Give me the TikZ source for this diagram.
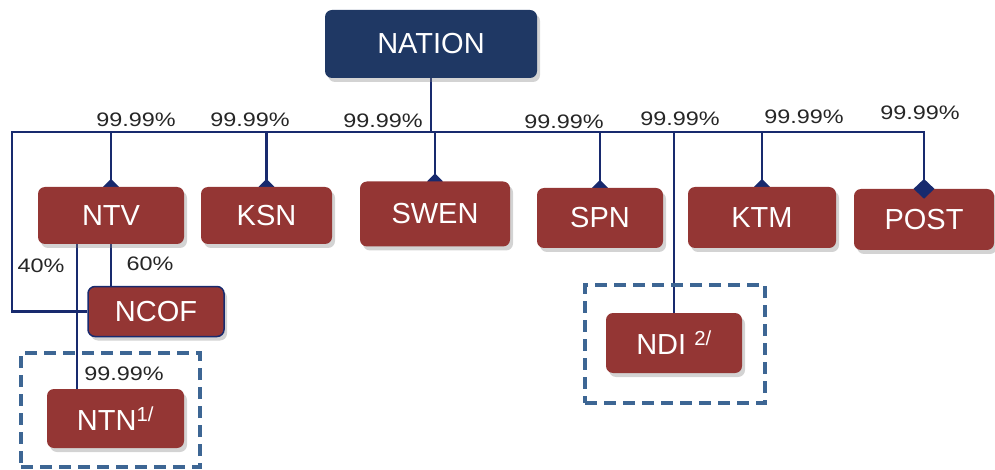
\documentclass[tikz,border=0pt]{standalone}
\usepackage{fontspec}
\setmainfont{Liberation Sans}
\newfontfamily\labfont[FakeStretch=1.2]{Liberation Sans}
\usetikzlibrary{shapes.geometric,shadows}
\pgfdeclarelayer{bg}
\pgfsetlayers{bg,main}
\definecolor{boxred}{RGB}{148,54,52}
\definecolor{navy}{RGB}{31,56,100}
\definecolor{linenavy}{RGB}{24,42,110}
\definecolor{dashblue}{RGB}{61,102,148}
\tikzset{
  unit/.style={rounded corners=7pt, fill=boxred, text=white, font=\fontsize{29}{32}\selectfont,
    drop shadow={opacity=0.35, shadow xshift=3pt, shadow yshift=-4pt}, inner sep=0pt},
  top/.style={unit, fill=navy},
  conn/.style={draw=linenavy, line width=2.4pt},
  lab/.style={font=\labfont\fontsize{19.5}{21}\selectfont, text=black!85, inner sep=0pt},
  dmd/.style={diamond, fill=linenavy, inner sep=0pt, minimum width=16pt, minimum height=16pt},
  bigdmd/.style={diamond, fill=linenavy, inner sep=0pt, minimum width=21pt, minimum height=20pt},
  grp/.style={draw=dashblue, line width=3.2pt, dash pattern=on 12pt off 7pt}
}
\begin{document}
\begin{tikzpicture}[x=1pt,y=-1pt]
\useasboundingbox (0,0) rectangle (995,470);
% dashed groups
\node[grp, minimum width=179pt, minimum height=114pt, inner sep=0pt] (g1) at (110.5,410) {};
\node[grp, minimum width=180pt, minimum height=118pt, inner sep=0pt] (g2) at (675,344) {};
% boxes
\node[top, minimum width=212pt, minimum height=68pt] (nation) at (431,44) {NATION};
\node[unit, minimum width=146pt, minimum height=57pt] (ntv) at (111,215.5) {NTV};
\node[unit, minimum width=131pt, minimum height=57pt] (ksn) at (266.5,215.5) {KSN};
\node[unit, minimum width=150pt, minimum height=65pt] (swen) at (435,214) {SWEN};
\node[unit, minimum width=126pt, minimum height=60pt] (spn) at (600,218) {SPN};
\node[unit, minimum width=148pt, minimum height=61pt] (ktm) at (762,217.5) {KTM};
\node[unit, minimum width=140pt, minimum height=61pt] (post) at (924,219.5) {POST};
\node[unit, draw=linenavy, line width=1.5pt, minimum width=136pt, minimum height=50pt] (ncof) at (156,311.5) {NCOF};
\node[unit, minimum width=136pt, minimum height=60pt] (ndi) at (674,343) {NDI \textsuperscript{2/}};
\node[unit, minimum width=137pt, minimum height=59pt] (ntn) at (115.5,418.5) {NTN\textsuperscript{1/}};
% bus coordinates
\coordinate (bL) at (12,132);
\coordinate (bR) at (924,132);
\coordinate (ntnx) at (77,244);
% connectors behind boxes
\begin{pgfonlayer}{bg}
\draw[conn] (nation.south) -- (nation.south |- bL);
\draw[conn] (ncof.west) -| (bL) -- (bR) -- (post.north);
\draw[conn] (ntv.north |- bL) -- (ntv.north);
\draw[conn] (ksn.north |- bL) -- (ksn.north);
\draw[conn] (swen.north |- bL) -- (swen.north);
\draw[conn] (spn.north |- bL) -- (spn.north);
\draw[conn] (ktm.north |- bL) -- (ktm.north);
\draw[conn] (ndi.north |- bL) -- (ndi.north);
\draw[conn] (ntv.south) -- (ntv.south |- ncof.north);
\draw[conn] (ntnx) -- (ntnx |- ntn.north);
\node[dmd] (d1) at (ntv.north) {};
\node[dmd] (d2) at (ksn.north) {};
\node[dmd] (d3) at (swen.north) {};
\node[dmd] (d4) at (spn.north) {};
\node[dmd] (d5) at (ktm.north) {};
\end{pgfonlayer}
\node[bigdmd] (d6) at (post.north) {};
% labels
\node[lab] (l1) at (136,120) {99.99\%};
\node[lab] (l2) at (250,120) {99.99\%};
\node[lab] (l3) at (383,121) {99.99\%};
\node[lab] (l4) at (564,122) {99.99\%};
\node[lab] (l5) at (680,119) {99.99\%};
\node[lab] (l6) at (804,117) {99.99\%};
\node[lab] (l7) at (920,113) {99.99\%};
\node[lab] (l8) at (41,266) {40\%};
\node[lab] (l9) at (150,264) {60\%};
\node[lab] (l10) at (124,374) {99.99\%};
\end{tikzpicture}
\end{document}
